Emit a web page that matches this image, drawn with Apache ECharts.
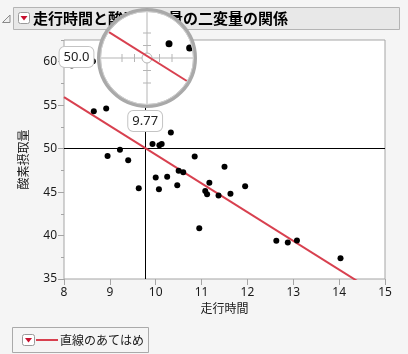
<!DOCTYPE html>
<html><head><meta charset="utf-8">
<script src="https://cdn.jsdelivr.net/npm/echarts@6/dist/echarts.min.js"></script>
<style>html,body{margin:0;padding:0;background:#f5f5f5}#c{width:408px;height:354px}</style>
</head><body><div id="c"></div>
<script>
// ---- data ----
const runTime = [11.37,10.07,8.65,8.17,9.22,11.63,11.95,10.85,13.08,8.63,10.13,14.03,11.12,10.60,10.33,8.95,10.95,10.00,10.25,10.08,12.63,11.17,9.63,8.92,11.08,12.88,10.47,9.93,9.40,11.50,10.50];
const oxygen  = [44.609,45.313,54.297,59.571,49.874,44.811,45.681,49.091,39.442,60.055,50.541,37.388,44.754,47.273,51.855,49.156,40.836,46.672,46.774,50.388,39.407,46.080,45.441,54.625,45.118,39.203,45.790,50.545,48.673,47.920,47.467];
const xTicks = [8,9,10,11,12,13,14,15];
const yTicks = [35,40,45,50,55,60];
const yMinorTicks = [37.5,42.5,47.5,52.5,57.5,62.5];
const crossX = 9.77, crossY = 50.0;
const titleText = '走行時間と酸素摂取量の二変量の関係';
const xName = '走行時間', yName = '酸素摂取量';
const legendText = '直線のあてはめ';

// ---- fit (least squares from the data) ----
const n = runTime.length;
const mx = runTime.reduce((s,v)=>s+v,0)/n, my = oxygen.reduce((s,v)=>s+v,0)/n;
let sxy=0,sxx=0;
for(let i=0;i<n;i++){sxy+=(runTime[i]-mx)*(oxygen[i]-my);sxx+=(runTime[i]-mx)**2;}
const slope = sxy/sxx, intercept = my - slope*mx;
const fit = x => intercept + slope*x;

// ---- layout ----
const FONT = '"Noto Sans","Noto Sans CJK JP",sans-serif';
const RED = '#d8404f';
const G = {left:64, top:40, width:321, height:239};
const xMin = 8, xMax = 15, yMin = 35, yMax = 62.5;
const lens = {cx:147, cy:58, r:46, mag:3};
const kx = lens.mag*G.width/(xMax-xMin), ky = lens.mag*G.height/(yMax-yMin);

const pts = runTime.map((x,i)=>[x, oxygen[i]]);
const lensPts = pts.filter(p => ((p[0]-crossX)*kx)**2 + ((p[1]-crossY)*ky)**2 < (lens.r-1)**2);
// clip fit line to lens circle
const d = fit(crossX) - crossY;
const A = kx*kx + ky*ky*slope*slope, B = 2*ky*ky*slope*d, C = ky*ky*d*d - lens.r*lens.r;
const disc = Math.sqrt(B*B-4*A*C);
const t1 = (-B-disc)/(2*A), t2 = (-B+disc)/(2*A);
const lensLine = [t1,t2].map(t => [crossX+t, fit(crossX+t)]);

const chart = echarts.init(document.getElementById('c'));
const axisGray = '#a5a5a5';
chart.setOption({
  animation:false,
  backgroundColor:'#f5f5f5',
  grid:[
    {left:G.left, top:G.top, width:G.width, height:G.height, show:true, backgroundColor:'#fff', borderColor:axisGray, borderWidth:1},
    {left:lens.cx-lens.r, top:lens.cy-lens.r, width:2*lens.r, height:2*lens.r, show:false}
  ],
  xAxis:[
    {gridIndex:0, type:'value', min:xMin, max:xMax, interval:1,
     axisLine:{show:false}, splitLine:{show:false},
     axisTick:{show:true, length:6, lineStyle:{color:axisGray}, customValues:xTicks},
     axisLabel:{customValues:xTicks, margin:8, fontSize:12, color:'#1a1a1a', fontFamily:FONT},
     name:xName, nameLocation:'middle', nameGap:23, nameTextStyle:{fontSize:12, color:'#1a1a1a', fontFamily:FONT}},
    {gridIndex:1, type:'value', min:crossX-lens.r/kx, max:crossX+lens.r/kx, show:false}
  ],
  yAxis:[
    {gridIndex:0, type:'value', min:yMin, max:yMax, position:'left',
     axisLine:{show:false}, splitLine:{show:false},
     axisTick:{show:true, length:6, lineStyle:{color:axisGray}, customValues:yTicks},
     axisLabel:{customValues:yTicks, margin:7, fontSize:12, color:'#1a1a1a', fontFamily:FONT},
     name:yName, nameLocation:'middle', nameGap:33, nameTextStyle:{fontSize:12, color:'#1a1a1a', fontFamily:FONT}},
    {gridIndex:0, type:'value', min:yMin, max:yMax, position:'left', offset:0,
     axisLine:{show:false}, splitLine:{show:false}, axisLabel:{show:false},
     axisTick:{show:true, length:3, lineStyle:{color:axisGray}, customValues:yMinorTicks}},
    {gridIndex:1, type:'value', min:crossY-lens.r/ky, max:crossY+lens.r/ky, show:false}
  ],
  series:[
    {type:'line', xAxisIndex:0, yAxisIndex:0, data:[[xMin,fit(xMin)],[xMax,fit(xMax)]], showSymbol:false, symbol:'none',
     lineStyle:{color:RED, width:2}, clip:true, z:3, silent:true,
     markLine:{silent:true, symbol:['none','none'], label:{show:false}, lineStyle:{color:'#000', width:1, type:'solid'},
       data:[{xAxis:crossX},{yAxis:crossY}], z:2}},
    {type:'scatter', xAxisIndex:0, yAxisIndex:0, data:pts, symbolSize:6, itemStyle:{color:'#000', opacity:1}, z:4, silent:true},
    {type:'line', xAxisIndex:1, yAxisIndex:2, data:lensLine, showSymbol:false, symbol:'none', clip:false,
     lineStyle:{color:RED, width:2}, z:60, silent:true},
    {type:'scatter', xAxisIndex:1, yAxisIndex:2, data:lensPts, symbolSize:7, itemStyle:{color:'#000', opacity:1}, z:61, silent:true, clip:false}
  ]
});

const cp = chart.convertToPixel({gridIndex:0}, [crossX, crossY]);
const reticle = [];
const rc = '#b5b5b5';
reticle.push({type:'line', z:52, shape:{x1:lens.cx, y1:lens.cy-lens.r, x2:lens.cx, y2:lens.cy+lens.r}, style:{stroke:rc, lineWidth:1}});
reticle.push({type:'line', z:52, shape:{x1:lens.cx-lens.r, y1:lens.cy, x2:lens.cx+lens.r, y2:lens.cy}, style:{stroke:rc, lineWidth:1}});
[-25,-12.5,12.5,25].forEach(o=>{
  reticle.push({type:'line', z:52, shape:{x1:lens.cx+o, y1:lens.cy-4, x2:lens.cx+o, y2:lens.cy+4}, style:{stroke:rc, lineWidth:1}});
  reticle.push({type:'line', z:52, shape:{x1:lens.cx-4, y1:lens.cy+o, x2:lens.cx+4, y2:lens.cy+o}, style:{stroke:rc, lineWidth:1}});
});
reticle.push({type:'circle', z:53, shape:{cx:lens.cx, cy:lens.cy, r:5}, style:{fill:'#fff', stroke:rc, lineWidth:1}});

const labelStyle = {font:'13px '+FONT, fill:'#222', align:'center', verticalAlign:'middle',
  backgroundColor:'#fff', borderColor:'#c4c4c4', borderWidth:1, borderRadius:5, padding:[3,4], lineHeight:14};

chart.setOption({
  graphic:[
    // title bar
    {type:'rect', z:40, shape:{x:13.5, y:7.5, width:386, height:22}, style:{fill:'#e8e8e8', stroke:'#b4b4b4', lineWidth:1}},
    {type:'polygon', z:41, shape:{points:[[10,15],[10,22.5],[2.5,22.5]]}, style:{fill:'#f0f0f0', stroke:'#8a8a8a', lineWidth:1}},
    {type:'rect', z:41, shape:{x:18.5, y:12.5, width:11, height:11, r:2}, style:{fill:'#fff', stroke:'#9a9a9a', lineWidth:1}},
    {type:'polygon', z:42, shape:{points:[[20.5,16],[27.5,16],[24,20.5]]}, style:{fill:'#c8102e'}},
    {type:'text', z:41, style:{text:titleText, x:33, y:18.5, font:'bold 15px "Noto Sans CJK JP",sans-serif', fill:'#000', verticalAlign:'middle'}},
    // legend
    {type:'rect', z:40, shape:{x:12.5, y:327.5, width:136, height:25}, style:{fill:'#f5f5f5', stroke:'#aaaaaa', lineWidth:1}},
    {type:'rect', z:41, shape:{x:22.5, y:334.5, width:12, height:11, r:2}, style:{fill:'#fff', stroke:'#9a9a9a', lineWidth:1}},
    {type:'polygon', z:42, shape:{points:[[25,338],[32,338],[28.5,342.5]]}, style:{fill:'#c8102e'}},
    {type:'line', z:41, shape:{x1:36, y1:340, x2:58, y2:340}, style:{stroke:RED, lineWidth:2}},
    {type:'text', z:41, style:{text:legendText, x:60, y:340, font:'12px "Noto Sans CJK JP",sans-serif', fill:'#1a1a1a', verticalAlign:'middle'}},
    // crosshair labels
    {type:'text', z:45, style:Object.assign({text:crossX.toFixed(2), x:cp[0], y:121}, labelStyle)},
    {type:'text', z:45, style:Object.assign({text:crossY.toFixed(1), x:76.5, y:57}, labelStyle)},
    // lens
    {type:'circle', z:50, shape:{cx:lens.cx, cy:lens.cy, r:lens.r+2}, style:{fill:'#fff'}},
    ...reticle,
    {type:'circle', z:70, shape:{cx:lens.cx, cy:lens.cy, r:lens.r+2}, style:{fill:null, stroke:'#a9a9a9', lineWidth:4}},
    {type:'circle', z:71, shape:{cx:lens.cx, cy:lens.cy, r:lens.r+0.5}, style:{fill:null, stroke:'#cfcfcf', lineWidth:1}}
  ]
});
</script>
</body></html>
